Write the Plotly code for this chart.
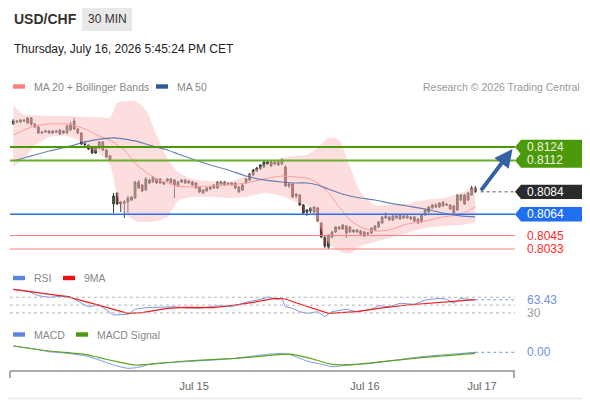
import numpy as np
import plotly.graph_objects as go

# ---- price data (30 min candles) ----
open_ = [0.81445, 0.81472, 0.81463, 0.81481, 0.81454, 0.81499, 0.81445, 0.81418, 0.81365, 0.81374,
         0.81383, 0.81365, 0.81383, 0.81392, 0.81365, 0.81365, 0.81392, 0.81472, 0.81401, 0.81365,
         0.81276, 0.81258, 0.81231, 0.81186, 0.81231, 0.81285, 0.81213, 0.81160, 0.80732, 0.80830,
         0.80749, 0.80740, 0.80749, 0.80767, 0.80785, 0.80928, 0.80901, 0.80856, 0.80946, 0.80928,
         0.80955, 0.80919, 0.80928, 0.80937, 0.80919, 0.80946, 0.80892, 0.80946, 0.80946, 0.80937,
         0.80928, 0.80919, 0.80883, 0.80830, 0.80848, 0.80865, 0.80874, 0.80874, 0.80928, 0.80928,
         0.80919, 0.80919, 0.80919, 0.80883, 0.80856, 0.80919, 0.80946, 0.80990, 0.81026, 0.81044,
         0.81062, 0.81088, 0.81106, 0.81088, 0.81106, 0.81088, 0.81062, 0.80910, 0.80910, 0.80803,
         0.80812, 0.80723, 0.80660, 0.80669, 0.80660, 0.80696, 0.80562, 0.80437, 0.80348, 0.80437,
         0.80482, 0.80509, 0.80509, 0.80535, 0.80526, 0.80482, 0.80482, 0.80491, 0.80482, 0.80464,
         0.80473, 0.80500, 0.80526, 0.80562, 0.80607, 0.80616, 0.80589, 0.80607, 0.80633, 0.80625,
         0.80625, 0.80616, 0.80616, 0.80598, 0.80571, 0.80633, 0.80660, 0.80696, 0.80723, 0.80705,
         0.80749, 0.80732, 0.80723, 0.80714, 0.80678, 0.80767, 0.80812, 0.80767, 0.80812, 0.80874]
high_ = [0.81490, 0.81481, 0.81490, 0.81490, 0.81508, 0.81508, 0.81454, 0.81427, 0.81383, 0.81392,
         0.81392, 0.81392, 0.81392, 0.81401, 0.81392, 0.81436, 0.81463, 0.81499, 0.81409, 0.81374,
         0.81294, 0.81267, 0.81240, 0.81240, 0.81294, 0.81294, 0.81222, 0.81169, 0.80830, 0.80839,
         0.80758, 0.80767, 0.80803, 0.80803, 0.80937, 0.80946, 0.80910, 0.80972, 0.80955, 0.80981,
         0.80963, 0.80963, 0.80937, 0.80963, 0.80963, 0.80955, 0.80937, 0.80955, 0.80955, 0.80946,
         0.80937, 0.80928, 0.80892, 0.80865, 0.80883, 0.80892, 0.80910, 0.80937, 0.80937, 0.80937,
         0.80928, 0.80928, 0.80928, 0.80892, 0.80910, 0.80963, 0.81008, 0.81044, 0.81062, 0.81088,
         0.81115, 0.81115, 0.81115, 0.81115, 0.81115, 0.81142, 0.81079, 0.80919, 0.80919, 0.80830,
         0.80821, 0.80732, 0.80687, 0.80705, 0.80714, 0.80705, 0.80571, 0.80446, 0.80464, 0.80491,
         0.80535, 0.80535, 0.80553, 0.80544, 0.80535, 0.80509, 0.80509, 0.80500, 0.80491, 0.80482,
         0.80526, 0.80544, 0.80580, 0.80625, 0.80660, 0.80625, 0.80633, 0.80633, 0.80642, 0.80633,
         0.80633, 0.80625, 0.80625, 0.80607, 0.80642, 0.80687, 0.80714, 0.80732, 0.80740, 0.80749,
         0.80758, 0.80740, 0.80732, 0.80723, 0.80821, 0.80821, 0.80821, 0.80839, 0.80892, 0.80892]
low_ = [0.81436, 0.81454, 0.81454, 0.81463, 0.81445, 0.81427, 0.81409, 0.81356, 0.81356, 0.81365,
        0.81356, 0.81356, 0.81365, 0.81347, 0.81356, 0.81356, 0.81383, 0.81392, 0.81356, 0.81258,
        0.81240, 0.81213, 0.81178, 0.81178, 0.81222, 0.81204, 0.81142, 0.81115, 0.80651, 0.80723,
        0.80660, 0.80607, 0.80651, 0.80758, 0.80776, 0.80865, 0.80839, 0.80848, 0.80910, 0.80919,
        0.80910, 0.80910, 0.80901, 0.80928, 0.80910, 0.80785, 0.80883, 0.80919, 0.80910, 0.80910,
        0.80892, 0.80865, 0.80830, 0.80821, 0.80839, 0.80856, 0.80865, 0.80865, 0.80901, 0.80892,
        0.80901, 0.80892, 0.80865, 0.80830, 0.80848, 0.80910, 0.80937, 0.80981, 0.81017, 0.81035,
        0.81053, 0.81079, 0.81062, 0.81079, 0.81071, 0.81079, 0.80883, 0.80874, 0.80785, 0.80785,
        0.80714, 0.80642, 0.80625, 0.80651, 0.80651, 0.80571, 0.80428, 0.80339, 0.80330, 0.80428,
        0.80473, 0.80500, 0.80500, 0.80428, 0.80473, 0.80473, 0.80473, 0.80455, 0.80437, 0.80446,
        0.80464, 0.80491, 0.80517, 0.80553, 0.80598, 0.80580, 0.80580, 0.80598, 0.80589, 0.80598,
        0.80598, 0.80589, 0.80571, 0.80553, 0.80562, 0.80625, 0.80651, 0.80687, 0.80696, 0.80696,
        0.80705, 0.80714, 0.80678, 0.80642, 0.80669, 0.80758, 0.80723, 0.80758, 0.80803, 0.80830]
close_ = [0.81472, 0.81463, 0.81481, 0.81472, 0.81499, 0.81445, 0.81418, 0.81365, 0.81374, 0.81383,
          0.81365, 0.81383, 0.81374, 0.81356, 0.81383, 0.81427, 0.81445, 0.81401, 0.81365, 0.81267,
          0.81258, 0.81222, 0.81186, 0.81231, 0.81285, 0.81213, 0.81151, 0.81124, 0.80803, 0.80732,
          0.80732, 0.80749, 0.80785, 0.80794, 0.80928, 0.80874, 0.80848, 0.80955, 0.80919, 0.80972,
          0.80919, 0.80955, 0.80910, 0.80955, 0.80955, 0.80901, 0.80928, 0.80928, 0.80919, 0.80919,
          0.80901, 0.80874, 0.80839, 0.80856, 0.80874, 0.80883, 0.80901, 0.80928, 0.80910, 0.80901,
          0.80910, 0.80901, 0.80874, 0.80839, 0.80901, 0.80955, 0.80999, 0.81035, 0.81053, 0.81079,
          0.81106, 0.81106, 0.81071, 0.81106, 0.81079, 0.81124, 0.80892, 0.80892, 0.80794, 0.80821,
          0.80723, 0.80651, 0.80678, 0.80696, 0.80705, 0.80580, 0.80437, 0.80357, 0.80455, 0.80482,
          0.80526, 0.80526, 0.80544, 0.80473, 0.80482, 0.80500, 0.80500, 0.80464, 0.80446, 0.80473,
          0.80517, 0.80535, 0.80571, 0.80616, 0.80625, 0.80589, 0.80625, 0.80625, 0.80598, 0.80607,
          0.80607, 0.80598, 0.80580, 0.80562, 0.80633, 0.80678, 0.80705, 0.80723, 0.80705, 0.80740,
          0.80714, 0.80723, 0.80687, 0.80651, 0.80812, 0.80812, 0.80732, 0.80830, 0.80874, 0.80840]

# ---- moving averages / bollinger bands (sampled along the candles) ----
ind_x = [0, 3, 6, 10, 15, 20, 24, 27, 29, 31, 34, 37, 40, 43, 46, 50, 55, 60, 65, 70,
         75, 79, 82, 85, 88, 91, 94, 97, 101, 105, 110, 115, 120, 125, 129]
bb_upper = [0.81615, 0.81525, 0.81525, 0.81516, 0.81516, 0.81508, 0.81508, 0.81499, 0.81632, 0.81650,
            0.81650, 0.81570, 0.81347, 0.81142, 0.81017, 0.80955, 0.80937, 0.80928, 0.80981, 0.81079,
            0.81142, 0.81160, 0.81169, 0.81231, 0.81320, 0.81302, 0.81062, 0.80839, 0.80723, 0.80723,
            0.80732, 0.80767, 0.80785, 0.80830, 0.80883]
bb_lower = [0.81062, 0.81142, 0.81249, 0.81329, 0.81338, 0.81267, 0.81186, 0.81079, 0.80812, 0.80660,
            0.80580, 0.80571, 0.80580, 0.80616, 0.80758, 0.80794, 0.80794, 0.80785, 0.80794, 0.80830,
            0.80803, 0.80749, 0.80723, 0.80571, 0.80384, 0.80312, 0.80286, 0.80357, 0.80393, 0.80428,
            0.80473, 0.80517, 0.80535, 0.80544, 0.80562]
ma20 = [0.81347, 0.81392, 0.81427, 0.81445, 0.81445, 0.81401, 0.81338, 0.81302, 0.81258, 0.81213,
        0.81097, 0.81017, 0.80955, 0.80919, 0.80892, 0.80883, 0.80892, 0.80901, 0.80919, 0.80955,
        0.80981, 0.80972, 0.80963, 0.80919, 0.80830, 0.80705, 0.80589, 0.80526, 0.80491, 0.80500,
        0.80553, 0.80580, 0.80616, 0.80642, 0.80705]
ma50 = [0.81115, 0.81142, 0.81169, 0.81204, 0.81240, 0.81285, 0.81311, 0.81320, 0.81320, 0.81311,
        0.81294, 0.81267, 0.81240, 0.81213, 0.81178, 0.81133, 0.81079, 0.81035, 0.80981, 0.80946,
        0.80928, 0.80919, 0.80919, 0.80901, 0.80865, 0.80830, 0.80803, 0.80785, 0.80767, 0.80740,
        0.80714, 0.80687, 0.80651, 0.80625, 0.80616]

# ---- RSI ----
rsi_x = [0, 4, 7, 10, 14, 16, 19, 21, 24, 26, 28, 32, 34, 37, 41, 45, 48, 52, 57, 61,
         65, 69, 71, 74, 75, 76, 78, 80, 82, 85, 87, 89, 93, 96, 100, 102, 105, 108, 112, 115,
         119, 121, 123, 125, 127, 129]
rsi = [90.3, 85.9, 74.0, 69.9, 73.2, 71.4, 54.6, 45.9, 50.3, 37.5,
       24.8, 26.6, 39.3, 43.4, 44.4, 45.9, 43.4, 41.8, 48.5, 45.9,
       57.1, 64.8, 70.6, 64.8, 67.3, 45.9, 41.8, 33.2, 29.1, 33.2,
       20.4, 33.2, 39.3, 33.2, 39.3, 48.5, 45.9, 54.6, 52.0, 63.0,
       67.3, 64.8, 54.6, 67.3, 64.8, 63.43]
rsi_ma_x = [0, 6, 15, 22, 27, 32, 36, 43, 48, 56, 62, 67, 73, 76, 80, 84, 88, 96, 102, 110, 116, 122, 129]
rsi_ma = [90.3, 82.6, 71.4, 54.6, 41.8, 29.1, 30.6, 41.8, 44.4, 43.4, 50.3, 57.1,
          67.3, 65.5, 52.8, 40.1, 29.1, 33.2, 41.8, 50.3, 54.6, 60.4, 63.8]
rsi_levels = [70, 50, 30]

# ---- MACD ----
macd_x = [0, 6, 10, 15, 20, 24, 28, 32, 35, 38, 43, 48, 56, 62, 67, 71, 75, 77, 80, 82,
          87, 89, 94, 100, 107, 114, 122, 129]
macd = [0.000126, 0.000066, 0.000012, -0.00002, -0.000068, -0.000154, -0.000254, -0.00032, -0.0003, -0.00024,
        -0.000208, -0.000188, -0.000154, -0.00012, -0.000074, -0.00004, -0.00002, -0.00004, -0.00012, -0.000174,
        -0.000254, -0.000288, -0.000254, -0.00022, -0.000154, -0.000088, -0.00004, 0.0]
signal_x = [0, 10, 20, 24, 29, 34, 38, 48, 62, 71, 75, 78, 83, 89, 96, 103, 114, 129]
signal = [0.000126, 0.000026, -0.00004, -0.000108, -0.000188, -0.000254, -0.00024, -0.000174, -0.00012,
          -0.000068, -0.00004, -0.00004, -0.00012, -0.00024, -0.00024, -0.000188, -0.000108, -0.00002]

# ---- levels & axis labels ----
resistances = [0.8124, 0.8112]
pivot = [0.8064]
supports = [0.8045, 0.8033]
target_price = 0.81222
tick_pos = [50.5, 98.2, 130.9]
tick_text = ["Jul 15", "Jul 16", "Jul 17"]

FONT = "Liberation Sans, Arial, sans-serif"
# the page body has an 8px margin, so the figure is drawn 8px smaller and
# all layout positions below are given in window pixels
OX, OY = 8, 8
W, H = 590 - OX, 400 - OY


def px(x):
    return (x - OX) / W


def py(y):
    return 1 - (y - OY) / H


PRICE_RANGE = [0.802142, 0.816592]
PRICE_PX = (PRICE_RANGE[1] - PRICE_RANGE[0]) / (262 - 100)
X_RANGE = [-0.92, 140.1]

x_idx = np.arange(len(close_))
last = close_[-1]

fig = go.Figure()

# Bollinger band + MAs
fig.add_trace(go.Scatter(x=ind_x, y=bb_upper, mode='lines',
                         line=dict(width=0, shape='spline', smoothing=0.6)))
fig.add_trace(go.Scatter(x=ind_x, y=bb_lower, mode='lines',
                         line=dict(width=0, shape='spline', smoothing=0.6),
                         fill='tonexty', fillcolor='rgba(252,190,190,0.5)'))
fig.add_trace(go.Scatter(x=ind_x, y=ma20, mode='lines',
                         line=dict(color='#ff9a9a', width=1, shape='spline', smoothing=0.6)))
fig.add_trace(go.Scatter(x=ind_x, y=ma50, mode='lines',
                         line=dict(color='rgba(55,90,160,0.75)', width=1.2, shape='spline', smoothing=0.6)))

# candles
fig.add_trace(go.Candlestick(
    x=x_idx, open=open_, high=high_, low=low_, close=close_,
    increasing=dict(line=dict(color='#3a3a3a', width=1), fillcolor='#2b7a2b'),
    decreasing=dict(line=dict(color='#3a3a3a', width=1), fillcolor='#e01515'),
    whiskerwidth=0,
))

# RSI panel
fig.add_trace(go.Scatter(x=rsi_x, y=rsi, yaxis='y2', mode='lines',
                         line=dict(color='#7b98e8', width=1)))
fig.add_trace(go.Scatter(x=rsi_ma_x, y=rsi_ma, yaxis='y2', mode='lines',
                         line=dict(color='#f01c1c', width=1.2)))

# MACD panel
fig.add_trace(go.Scatter(x=macd_x, y=macd, yaxis='y3', mode='lines',
                         line=dict(color='#7b98e8', width=1, shape='spline', smoothing=0.5)))
fig.add_trace(go.Scatter(x=signal_x, y=signal, yaxis='y3', mode='lines',
                         line=dict(color='#5ea31f', width=1.2, shape='spline', smoothing=0.5)))

shapes = []
annotations = []

# frame and header box
shapes.append(dict(type='rect', xref='paper', yref='paper', x0=px(1), x1=px(588.5), y0=py(398.5), y1=py(1),
                   line=dict(color='#e4e7eb', width=1.5)))
shapes.append(dict(type='rect', xref='paper', yref='paper', x0=px(82), x1=px(132), y0=py(31), y1=py(7),
                   fillcolor='#e8e8e8', line=dict(width=0)))

annotations.append(dict(text='<b>USD/CHF</b>', x=px(12), y=py(19.5), font=dict(size=14, color='#333')))
annotations.append(dict(text='30 MIN', x=px(107), y=py(19), xanchor='center', font=dict(size=12, color='#333')))
annotations.append(dict(text='Thursday, July 16, 2026 5:45:24 PM CET', x=px(12), y=py(49),
                        font=dict(size=12, color='#222')))
annotations.append(dict(text='Research © 2026 Trading Central', x=px(582), y=py(86.5), xanchor='right',
                        font=dict(size=10.5, color='#9a9a9a')))


def legend_item(x, y, color, label):
    shapes.append(dict(type='rect', xref='paper', yref='paper', x0=px(x), x1=px(x + 12),
                       y0=py(y + 2.2), y1=py(y - 2.2), fillcolor=color, line=dict(width=0)))
    annotations.append(dict(text=label, x=px(x + 19), y=py(y), font=dict(size=10.5, color='#888')))


legend_item(13, 86.5, '#ff7f7f', 'MA 20 + Bollinger Bands')
legend_item(156, 86.5, '#2f5a9a', 'MA 50')
legend_item(13, 278, '#5b84e0', 'RSI')
legend_item(63, 278, '#ee1111', '9MA')
legend_item(13, 334.5, '#5b84e0', 'MACD')
legend_item(76, 334.5, '#4a9a10', 'MACD Signal')

# key levels
level_style = [(resistances[0], '#4a9a06', 2), (resistances[1], '#6aae2c', 2),
               (pivot[0], '#2a6ff0', 1.5), (supports[0], '#ff7f7f', 1), (supports[1], '#ff7f7f', 1)]
for lv, col, w in level_style:
    shapes.append(dict(type='line', xref='paper', yref='y', x0=px(10), x1=px(515), y0=lv, y1=lv,
                       line=dict(color=col, width=w)))

# last price dotted extension
shapes.append(dict(type='line', xref='x', yref='y', x0=x_idx[-1] + 1.5, x1=X_RANGE[1], y0=last, y1=last,
                   line=dict(color='#555', width=1, dash='dot')))


def price_tag(level, fill, text_color):
    h = 7.2 * PRICE_PX
    path = (f"M {px(515)},{level} L {px(521)},{level + h} L {px(587)},{level + h} "
            f"L {px(587)},{level - h} L {px(521)},{level - h} Z")
    shapes.append(dict(type='path', xref='paper', yref='y', path=path, fillcolor=fill, line=dict(width=0)))
    annotations.append(dict(text=f"{level:.4f}", x=px(525), y=level, yref='y',
                            font=dict(size=12, color=text_color)))


price_tag(resistances[0], '#4c9a0a', '#eef7e2')
price_tag(resistances[1], '#4c9a0a', '#eef7e2')
price_tag(last, '#2b2b2b', '#ffffff')
price_tag(pivot[0], '#1f6ff0', '#ffffff')
for s in supports:
    annotations.append(dict(text=f"{s:.4f}", x=px(525), y=s, yref='y', font=dict(size=12, color='#ff2a2a')))

# projection arrow
annotations.append(dict(text='', x=139.4, y=target_price, xref='x', yref='y',
                        ax=130.3, ay=last, axref='x', ayref='y', showarrow=True,
                        arrowhead=2, arrowsize=0.9, arrowwidth=4, arrowcolor='#3563a6', standoff=0))

# RSI guides and labels
for lv in rsi_levels:
    shapes.append(dict(type='line', xref='paper', yref='y2', x0=px(10), x1=px(515), y0=lv, y1=lv,
                       line=dict(color='#b5b5b5', width=1, dash='dot')))
    annotations.append(dict(text=str(lv), x=px(525), y=lv, yref='y2', font=dict(size=12, color='#999')))
shapes.append(dict(type='line', xref='x', yref='y2', x0=rsi_x[-1], x1=X_RANGE[1], y0=rsi[-1], y1=rsi[-1],
                   line=dict(color='#7b98e8', width=1, dash='dot')))
annotations.append(dict(text=f"{rsi[-1]:.2f}", x=px(525), y=rsi[-1], yref='y2', bgcolor='white',
                        font=dict(size=12, color='#6f8fe6')))

# MACD last value
shapes.append(dict(type='line', xref='x', yref='y3', x0=macd_x[-1], x1=X_RANGE[1], y0=macd[-1], y1=macd[-1],
                   line=dict(color='#7b98e8', width=1, dash='dot')))
annotations.append(dict(text=f"{macd[-1]:.2f}", x=px(525), y=macd[-1], yref='y3', bgcolor='white',
                        font=dict(size=12, color='#6f8fe6')))

# x axis end ticks
for xe in (10, 514):
    shapes.append(dict(type='line', xref='paper', yref='paper', x0=px(xe), x1=px(xe), y0=py(371), y1=py(378),
                       line=dict(color='#aaaaaa', width=2)))

for a in annotations:
    a.setdefault('xref', 'paper')
    a.setdefault('yref', 'paper')
    a.setdefault('xanchor', 'left')
    a.setdefault('yanchor', 'middle')
    a.setdefault('showarrow', False)

fig.update_layout(
    width=W, height=H,
    margin=dict(l=0, r=0, t=0, b=0),
    paper_bgcolor='white', plot_bgcolor='rgba(0,0,0,0)',
    showlegend=False,
    font=dict(family=FONT),
    xaxis=dict(domain=[px(10), px(515)], range=X_RANGE, showgrid=False, zeroline=False,
               showline=True, linecolor='#aaaaaa', linewidth=2, anchor='free', position=py(371),
               tickvals=tick_pos, ticktext=tick_text, ticks='outside', ticklen=5,
               tickcolor='rgba(0,0,0,0)', tickfont=dict(size=11, color='#666'),
               rangeslider=dict(visible=False), fixedrange=True),
    yaxis=dict(domain=[py(262), py(100)], range=PRICE_RANGE, visible=False, fixedrange=True),
    yaxis2=dict(domain=[py(324.7), py(285.5)], range=[0, 100], visible=False, fixedrange=True),
    yaxis3=dict(domain=[py(370), py(340)], range=[-0.000354, 0.000246], visible=False, fixedrange=True),
    shapes=shapes,
    annotations=annotations,
)

fig.write_html("out.html")
